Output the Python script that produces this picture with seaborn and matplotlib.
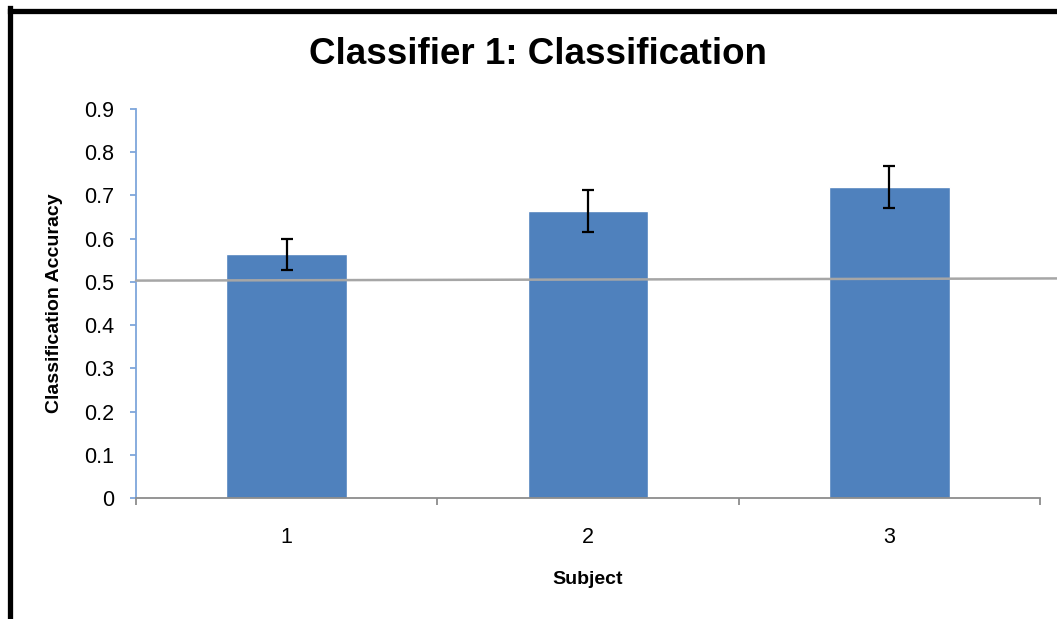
import matplotlib
matplotlib.use("Agg")
import matplotlib.pyplot as plt
import seaborn as sns
import pandas as pd
from matplotlib.lines import Line2D

subjects = ["1", "2", "3"]
accuracy = [0.564, 0.664, 0.719]
errors = [0.036, 0.048, 0.049]
chance_x = [-0.5, 2.556]
chance_y = [0.503, 0.508]
yticks = [0, 0.1, 0.2, 0.3, 0.4, 0.5, 0.6, 0.7, 0.8, 0.9]
ytick_labels = ["0", "0.1", "0.2", "0.3", "0.4", "0.5", "0.6", "0.7", "0.8", "0.9"]

sns.set_style("white")
plt.rcParams['font.family'] = ['Liberation Sans', 'DejaVu Sans']
plt.rcParams['text.color'] = 'black'
plt.rcParams['xtick.labelcolor'] = 'black'
plt.rcParams['ytick.labelcolor'] = 'black'
plt.rcParams['axes.labelcolor'] = 'black'

df = pd.DataFrame({"Subject": subjects, "Accuracy": accuracy})

fig = plt.figure(figsize=(10.57, 6.19), dpi=100)
ax = fig.add_axes([136/1057, 1-498/619, (1040-136)/1057, (498-109)/619])

bar_color = "#4F81BD"
sns.barplot(data=df, x="Subject", y="Accuracy", color=bar_color, width=0.4,
            saturation=1, ax=ax, zorder=2)

ax.errorbar(range(len(subjects)), accuracy, yerr=errors, fmt="none",
            ecolor="black", elinewidth=1.6, capsize=4.5, capthick=1.6, zorder=4)

ax.plot(chance_x, chance_y, color="#A6A6A6", lw=1.8, clip_on=False, zorder=3)

ax.set_xlim(-0.5, 2.5)
ax.set_ylim(0, 0.9)
ax.set_yticks(yticks)
ax.set_yticklabels(ytick_labels)

for s in ["top", "right"]:
    ax.spines[s].set_visible(False)
ax.spines["left"].set_color("#7EA6DB")
ax.spines["left"].set_linewidth(1.3)
ax.spines["bottom"].set_color("#8C8C8C")
ax.spines["bottom"].set_linewidth(1.3)
ax.spines["bottom"].set_zorder(5)

ax.tick_params(axis="y", direction="out", length=4.5, width=1.3, color="#7EA6DB",
               labelsize=15.5, pad=11, left=True, labelcolor="black")
ax.tick_params(axis="x", which="major", length=0, labelsize=15.5, pad=21, labelcolor="black")
ax.set_xticks([-0.5, 0.5, 1.5, 2.5], minor=True)
ax.tick_params(axis="x", which="minor", direction="out", length=5, width=1.3,
               color="#8C8C8C", bottom=True)

ax.set_xlabel("Subject", fontsize=14, fontweight="bold", color="black")
ax.set_ylabel("Classification Accuracy", fontsize=14, fontweight="bold", color="black")
ax.xaxis.set_label_coords(0.5, (498-580)/389)
ax.yaxis.set_label_coords((55-136)/904, 0.5)
for lab in [ax.xaxis.label, ax.yaxis.label]:
    lab.set_verticalalignment("center")

fig.text(538/1057, 1-55/619, "Classifier 1: Classification", ha="center", va="center",
         fontsize=26.5, fontweight="bold", color="black")

# frame
fig.add_artist(Line2D([9.5/1057, 9.5/1057], [0, 1-8/619], color="black", lw=3.8,
                      transform=fig.transFigure, solid_capstyle="projecting"))
fig.add_artist(Line2D([9.5/1057, 1.0], [1-10.5/619, 1-10.5/619], color="black", lw=3.8,
                      transform=fig.transFigure, solid_capstyle="projecting"))

fig.savefig("out.png", dpi=100)
